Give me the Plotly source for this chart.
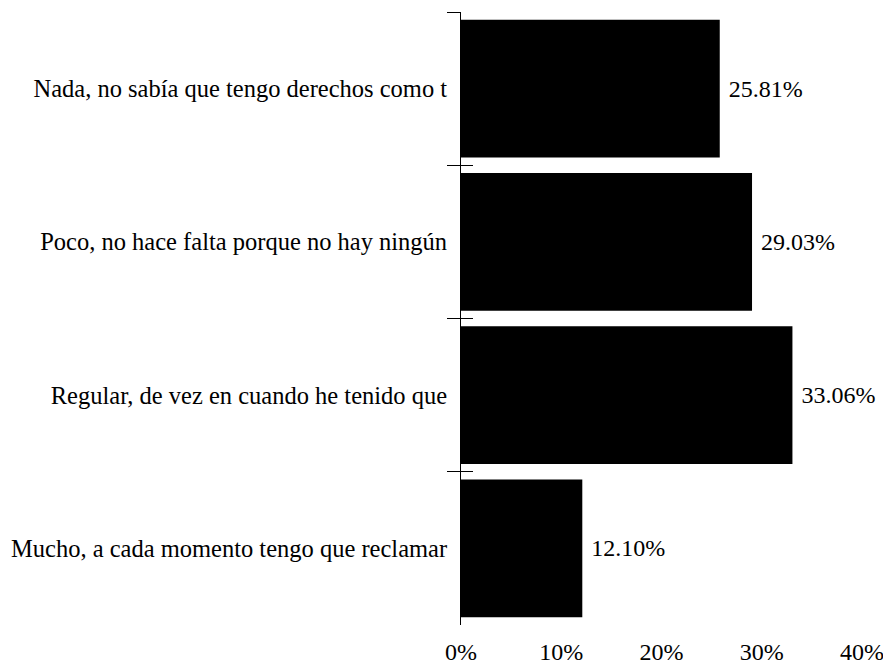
import plotly.graph_objects as go

categories = [
    "Mucho, a cada momento tengo que reclamar",
    "Regular, de vez en cuando he tenido que",
    "Poco, no hace falta porque no hay ningún",
    "Nada, no sabía que tengo derechos como t",
]
values = [12.10, 33.06, 29.03, 25.81]
x_ticks = [0, 10, 20, 30, 40]
x_tick_labels = ["0%", "10%", "20%", "30%", "40%"]

positions = list(range(len(categories)))
boundaries = [p + 0.5 for p in positions]
yrange = [-0.5, len(categories) - 0.5]

FONT = dict(family="Liberation Serif", size=24, color="black")
CAT_FONT = dict(family="Liberation Serif", size=24.5, color="black")

fig = go.Figure()
fig.add_trace(go.Bar(
    x=values, y=positions, orientation="h",
    marker=dict(color="black", line=dict(width=0)),
    width=0.9,
    texttemplate=" %{x:.2f}%", textposition="outside",
    textfont=FONT, cliponaxis=False, showlegend=False,
))
for ax in ["y2", "y3"]:
    fig.add_trace(go.Scatter(x=[None], y=[None], yaxis=ax, showlegend=False, hoverinfo="skip"))

common_y = dict(range=yrange, showgrid=False, zeroline=False, fixedrange=True, automargin=False)
fig.update_layout(
    width=883, height=664,
    margin=dict(l=453, r=29, t=4, b=47),
    paper_bgcolor="white", plot_bgcolor="white",
    font=FONT,
    template="none",
    xaxis=dict(range=[0, 40], tickvals=x_ticks, ticktext=x_tick_labels,
               showgrid=False, zeroline=False, showline=False, ticks="",
               ticklabelstandoff=10, tickfont=FONT, automargin=False,
               ticklabeloverflow="allow"),
    yaxis=dict(**common_y, tickvals=positions, ticktext=categories, ticks="",
               showline=True, linecolor="black", linewidth=1,
               ticklabelstandoff=8, tickfont=CAT_FONT, ticklabeloverflow="allow"),
    yaxis2=dict(**common_y, overlaying="y", anchor="x", tickvals=boundaries,
                ticks="outside", ticklen=13, tickcolor="black", tickwidth=1,
                showticklabels=False, showline=False),
    yaxis3=dict(**common_y, overlaying="y", anchor="x", tickvals=boundaries,
                ticks="inside", ticklen=12, tickcolor="black", tickwidth=1,
                showticklabels=False, showline=False),
)
fig.write_html("out.html")
